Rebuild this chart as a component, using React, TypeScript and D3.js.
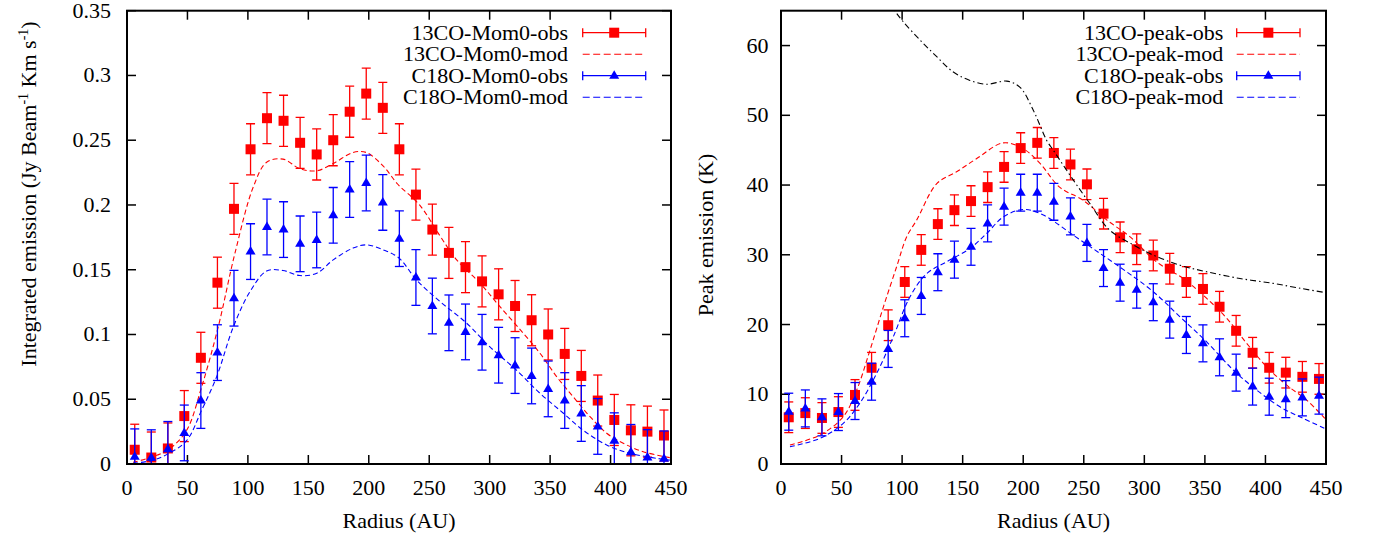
import React from "react";
import * as d3 from "d3";

// ---------------- data ----------------
const radius = [6.4, 20.1, 33.8, 47.4, 61.1, 74.8, 88.5, 102.2, 115.8, 129.5, 143.2, 156.9, 170.6, 184.2, 197.9, 211.6, 225.3, 239.0, 252.6, 266.3, 280.0, 293.7, 307.4, 321.0, 334.7, 348.4, 362.1, 375.8, 389.4, 403.1, 416.8, 430.5, 444.2];

const co13Mom0Obs = [0.011, 0.005, 0.012, 0.037, 0.082, 0.140, 0.197, 0.243, 0.267, 0.265, 0.248, 0.239, 0.250, 0.272, 0.286, 0.275, 0.243, 0.208, 0.181, 0.163, 0.152, 0.141, 0.131, 0.122, 0.111, 0.100, 0.085, 0.068, 0.049, 0.034, 0.026, 0.025, 0.022];
const co13Mom0Err = 0.0197;
const c18oMom0Obs = [0.0056, 0.0049, 0.0113, 0.024, 0.049, 0.086, 0.128, 0.164, 0.183, 0.181, 0.170, 0.173, 0.192, 0.212, 0.217, 0.202, 0.174, 0.144, 0.122, 0.109, 0.102, 0.094, 0.084, 0.076, 0.068, 0.058, 0.049, 0.039, 0.029, 0.018, 0.009, 0.005, 0.004];
const c18oMom0Err = 0.0215;

const co13Mom0ModR = [5, 21.5, 35.6, 49.3, 61.8, 75.5, 89.3, 104.5, 115.5, 129, 143, 157, 170.6, 187, 198, 212, 224, 242, 259, 272.7, 292, 308.5, 327.8, 341.6, 355.4, 369, 383, 396.8, 410.5, 427, 449];
const co13Mom0ModV = [0.0013, 0.0056, 0.012, 0.026, 0.0597, 0.106, 0.1628, 0.214, 0.233, 0.2354, 0.228, 0.2264, 0.232, 0.2405, 0.2405, 0.230, 0.216, 0.200, 0.176, 0.1576, 0.1396, 0.1215, 0.101, 0.0855, 0.0675, 0.052, 0.0366, 0.0237, 0.016, 0.0095, 0.0049];

const c18oMom0ModR = [5, 21.5, 35.6, 49.3, 61.8, 74.2, 88, 101.7, 115.5, 129, 143, 157, 170.6, 187, 198, 212, 225, 239.6, 259, 281, 300, 322, 341.6, 361, 377, 396.8, 416, 438, 449];
const c18oMom0ModV = [0.0005, 0.003, 0.0087, 0.018, 0.0417, 0.0675, 0.106, 0.133, 0.149, 0.1494, 0.1455, 0.1473, 0.1576, 0.1667, 0.1692, 0.1653, 0.159, 0.142, 0.1254, 0.1087, 0.0906, 0.0726, 0.0546, 0.0392, 0.0263, 0.0147, 0.0083, 0.0044, 0.003];

const co13PeakObs = [6.7, 7.3, 6.6, 7.45, 9.9, 13.8, 19.9, 26.1, 30.7, 34.4, 36.4, 37.7, 39.7, 42.6, 45.3, 46.05, 44.6, 42.95, 40.1, 35.9, 32.5, 30.8, 29.9, 28.0, 26.1, 25.1, 22.55, 19.1, 15.95, 13.8, 13.1, 12.5, 12.2];
const co13PeakErr = 2.2;
const c18oPeakObs = [7.5, 7.97, 6.69, 7.45, 9.03, 11.8, 16.5, 20.9, 24.1, 27.5, 29.3, 31.15, 34.5, 36.9, 38.9, 38.9, 37.6, 35.5, 31.7, 28.1, 26.0, 25.0, 23.2, 20.7, 18.5, 17.3, 15.3, 13.1, 11.1, 9.65, 9.3, 9.55, 9.8];
const c18oPeakErr = 2.65;

const co13PeakModR = [7.4, 32.2, 51.4, 62.5, 73.5, 84.5, 95.5, 103.8, 112, 128.6, 145, 161.6, 183.6, 200, 213.9, 230, 249.6, 268.9, 288, 310, 332, 351.5, 368, 384.5, 401, 417.6, 434, 449];
const co13PeakModV = [2.72, 4.16, 6.78, 10.6, 16.34, 22.5, 28.3, 32.6, 34.97, 40.2, 41.9, 43.8, 46.05, 45.2, 43.1, 39.7, 37.8, 35, 32.6, 29, 26.6, 23.75, 20.9, 17.3, 13.95, 11.3, 9.17, 6.55];

const c18oPeakModR = [7.4, 32.2, 51.4, 65, 79, 92.7, 106.5, 120.3, 136.8, 156, 169.8, 183.6, 200, 216.6, 241.4, 263.4, 285.4, 307.4, 329.5, 351.5, 373.5, 392.8, 412, 431, 449];
const c18oPeakModV = [2.48, 3.68, 5.83, 8.7, 13.0, 18.24, 23.98, 27.3, 29.0, 30.9, 33.06, 35.44, 36.5, 35.7, 32.8, 30.2, 27.56, 24.7, 21.1, 17.5, 13.47, 10.6, 8.2, 6.55, 5.1];

const tempR = [85, 94, 101, 114.8, 128.6, 142.3, 156, 169.8, 186.4, 197.4, 208.4, 219.4, 224.8, 241.4, 255, 271, 291, 307.4, 329.5, 351.5, 379, 406.5, 428.5, 449];
const tempV = [68, 65, 63.4, 60.8, 58.4, 56.2, 55.0, 54.46, 54.9, 54.0, 50.7, 46.4, 45, 40.7, 37.36, 33.6, 31.4, 29.95, 28.5, 27.56, 26.6, 25.9, 25.2, 24.6];

const xTicks = [0, 50, 100, 150, 200, 250, 300, 350, 400, 450];
const mom0Ticks = [0, 0.05, 0.1, 0.15, 0.2, 0.25, 0.3, 0.35];
const peakTicks = [0, 10, 20, 30, 40, 50, 60];

const mom0Legend = ["13CO-Mom0-obs", "13CO-Mom0-mod", "C18O-Mom0-obs", "C18O-Mom0-mod"];
const peakLegend = ["13CO-peak-obs", "13CO-peak-mod", "C18O-peak-obs", "C18O-peak-mod"];

// ---------------- styles ----------------
const FS = 22;
const RED = "#ff0000";
const BLUE = "#0000ff";
const TXT: React.CSSProperties = { fontFamily: `"Liberation Serif"`, fontSize: FS };

type Obs = { y: number[]; err: number; color: string; marker: "square" | "triangle" };
type Mod = { x: number[]; y: number[]; color: string; dash: string };

function Marker({ kind, x, y, color }: { kind: string; x: number; y: number; color: string }) {
  if (kind === "square") return <rect x={x - 5} y={y - 5} width={10} height={10} fill={color} />;
  return <polygon points={`${x},${y - 5.5} ${x - 5},${y + 3} ${x + 5},${y + 3}`} fill={color} />;
}

function ObsSeries({ obs, xs, ys }: { obs: Obs; xs: d3.ScaleLinear<number, number>; ys: d3.ScaleLinear<number, number> }) {
  return (
    <g>
      {radius.map((r, i) => {
        const cx = xs(r);
        const v = obs.y[i];
        const y0 = ys(v - obs.err);
        const y1 = ys(v + obs.err);
        return (
          <g key={i} stroke={obs.color} strokeWidth={1.3}>
            <line x1={cx} x2={cx} y1={y0} y2={y1} />
            <line x1={cx - 4.5} x2={cx + 4.5} y1={y0} y2={y0} />
            <line x1={cx - 4.5} x2={cx + 4.5} y1={y1} y2={y1} />
          </g>
        );
      })}
      {radius.map((r, i) => (
        <Marker key={"m" + i} kind={obs.marker} x={xs(r)} y={ys(obs.y[i])} color={obs.color} />
      ))}
    </g>
  );
}

function ModSeries({ mod, xs, ys }: { mod: Mod; xs: d3.ScaleLinear<number, number>; ys: d3.ScaleLinear<number, number> }) {
  const line = d3
    .line<number>()
    .x((_, i) => xs(mod.x[i]))
    .y((d) => ys(d))
    .curve(d3.curveCatmullRom);
  return <path d={line(mod.y) || ""} fill="none" stroke={mod.color} strokeWidth={1.1} strokeDasharray={mod.dash} />;
}

function Panel(props: {
  id: string;
  left: number;
  right: number;
  top: number;
  bottom: number;
  yMax: number;
  yTicks: number[];
  yLabelRight: number;
  obs: Obs[];
  mods: Mod[];
  extra?: Mod;
  legend: string[];
  legendTextX: number;
  legendLineX0: number;
  legendLineX1: number;
  yLabel: React.ReactNode;
}) {
  const { id, left, right, top, bottom, yMax, yTicks } = props;
  const xs = d3.scaleLinear().domain([0, 450]).range([left, right]);
  const ys = d3.scaleLinear().domain([0, yMax]).range([bottom, top]);
  const TL = 9;
  const legendRows = [32.7, 54.2, 75.7, 97.2];
  const legendStyle = [
    { color: RED, obs: true, marker: "square" },
    { color: RED, obs: false, marker: "" },
    { color: BLUE, obs: true, marker: "triangle" },
    { color: BLUE, obs: false, marker: "" },
  ];
  const mid = (props.legendLineX0 + props.legendLineX1) / 2;
  return (
    <g>
      <defs>
        <clipPath id={id}>
          <rect x={left} y={top} width={right - left} height={bottom - top} />
        </clipPath>
      </defs>
      {xTicks.map((t) => (
        <g key={"xt" + t}>
          <line x1={xs(t)} x2={xs(t)} y1={bottom} y2={bottom - TL} stroke="#000" strokeWidth={1.5} />
          <line x1={xs(t)} x2={xs(t)} y1={top} y2={top + TL} stroke="#000" strokeWidth={1.5} />
          <text x={xs(t)} y={495} textAnchor="middle" fill="#000" style={TXT}>
            {t}
          </text>
        </g>
      ))}
      {yTicks.map((t) => (
        <g key={"yt" + t}>
          <line x1={left} x2={left + TL} y1={ys(t)} y2={ys(t)} stroke="#000" strokeWidth={1.5} />
          <line x1={right} x2={right - TL} y1={ys(t)} y2={ys(t)} stroke="#000" strokeWidth={1.5} />
          <text x={props.yLabelRight} y={ys(t) + 7} textAnchor="end" fill="#000" style={TXT}>
            {String(+t.toFixed(2))}
          </text>
        </g>
      ))}
      <g clipPath={`url(#${id})`}>
        <ObsSeries obs={props.obs[0]} xs={xs} ys={ys} />
        <ModSeries mod={props.mods[0]} xs={xs} ys={ys} />
        <ObsSeries obs={props.obs[1]} xs={xs} ys={ys} />
        <ModSeries mod={props.mods[1]} xs={xs} ys={ys} />
        {props.extra && <ModSeries mod={props.extra} xs={xs} ys={ys} />}
      </g>
      {props.legend.map((label, i) => {
        const st = legendStyle[i];
        const y = legendRows[i];
        return (
          <g key={"lg" + i}>
            <text x={props.legendTextX} y={y + 7} textAnchor="end" fill="#000" style={TXT}>
              {label}
            </text>
            {st.obs ? (
              <g stroke={st.color} strokeWidth={1.3}>
                <line x1={props.legendLineX0} x2={props.legendLineX1} y1={y} y2={y} />
                <line x1={props.legendLineX0} x2={props.legendLineX0} y1={y - 4.5} y2={y + 4.5} />
                <line x1={props.legendLineX1} x2={props.legendLineX1} y1={y - 4.5} y2={y + 4.5} />
              </g>
            ) : (
              <line x1={props.legendLineX0} x2={props.legendLineX1} y1={y} y2={y} stroke={st.color} strokeWidth={1.1} strokeDasharray="7,3.5" />
            )}
            {st.obs && <Marker kind={st.marker} x={mid} y={y} color={st.color} />}
          </g>
        );
      })}
      <rect x={left} y={top} width={right - left} height={bottom - top} fill="none" stroke="#000" strokeWidth={2} />
      <text x={(left + right) / 2} y={528} textAnchor="middle" fill="#000" style={TXT}>
        Radius (AU)
      </text>
      {props.yLabel}
    </g>
  );
}

export default function App() {
  return (
    <svg
      width={1374}
      height={537}
      style={{ position: "absolute", left: 0, top: 0, background: "#fff" }}
      xmlns="http://www.w3.org/2000/svg"
    >
      <rect x={0} y={0} width={1374} height={537} fill="#fff" />
      <Panel
        id="clipL"
        left={127}
        right={671}
        top={10.7}
        bottom={464}
        yMax={0.35}
        yTicks={mom0Ticks}
        yLabelRight={111}
        obs={[
          { y: co13Mom0Obs, err: co13Mom0Err, color: RED, marker: "square" },
          { y: c18oMom0Obs, err: c18oMom0Err, color: BLUE, marker: "triangle" },
        ]}
        mods={[
          { x: co13Mom0ModR, y: co13Mom0ModV, color: RED, dash: "5,3" },
          { x: c18oMom0ModR, y: c18oMom0ModV, color: BLUE, dash: "5,3" },
        ]}
        legend={mom0Legend}
        legendTextX={568}
        legendLineX0={582.7}
        legendLineX1={645.7}
        yLabel={
          <text transform="translate(36,194) rotate(-90)" textAnchor="middle" fill="#000" style={TXT}>
            Integrated emission (Jy Beam
            <tspan dy={-8} style={{ fontSize: 14 }}>-1</tspan>
            <tspan dy={8}> Km s</tspan>
            <tspan dy={-8} style={{ fontSize: 14 }}>-1</tspan>
            <tspan dy={8}>)</tspan>
          </text>
        }
      />
      <Panel
        id="clipR"
        left={781}
        right={1326}
        top={10.7}
        bottom={464}
        yMax={65}
        yTicks={peakTicks}
        yLabelRight={768.5}
        obs={[
          { y: co13PeakObs, err: co13PeakErr, color: RED, marker: "square" },
          { y: c18oPeakObs, err: c18oPeakErr, color: BLUE, marker: "triangle" },
        ]}
        mods={[
          { x: co13PeakModR, y: co13PeakModV, color: RED, dash: "5,3" },
          { x: c18oPeakModR, y: c18oPeakModV, color: BLUE, dash: "5,3" },
        ]}
        extra={{ x: tempR, y: tempV, color: "#000", dash: "6,3,1.5,3" }}
        legend={peakLegend}
        legendTextX={1223.3}
        legendLineX0={1236.7}
        legendLineX1={1300}
        yLabel={
          <text transform="translate(713,235) rotate(-90)" textAnchor="middle" fill="#000" style={TXT}>
            Peak emission (K)
          </text>
        }
      />
    </svg>
  );
}
